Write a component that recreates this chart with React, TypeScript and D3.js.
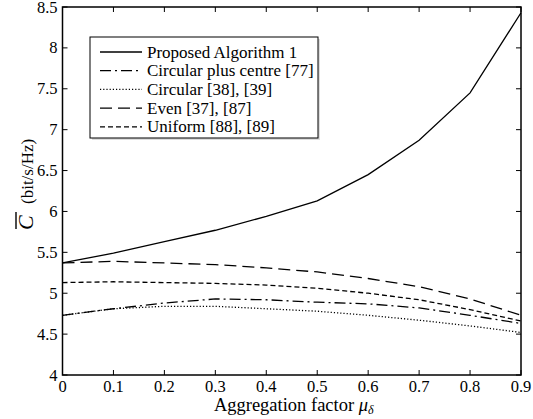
import React from "react";
import * as d3 from "d3";

const xValues = [0, 0.1, 0.2, 0.3, 0.4, 0.5, 0.6, 0.7, 0.8, 0.9];
const proposed = [5.37, 5.49, 5.63, 5.77, 5.94, 6.13, 6.45, 6.87, 7.45, 8.43];
const circPlusCentre = [4.73, 4.81, 4.88, 4.93, 4.92, 4.89, 4.87, 4.82, 4.73, 4.63];
const circular = [4.73, 4.81, 4.84, 4.84, 4.81, 4.78, 4.73, 4.67, 4.6, 4.52];
const even = [5.37, 5.39, 5.37, 5.35, 5.31, 5.26, 5.18, 5.08, 4.93, 4.73];
const uniform = [5.13, 5.14, 5.13, 5.12, 5.1, 5.06, 5.0, 4.92, 4.8, 4.66];

const seriesNames = [
  "Proposed Algorithm 1",
  "Circular plus centre [77]",
  "Circular [38], [39]",
  "Even [37], [87]",
  "Uniform [88], [89]",
];
const seriesData = [proposed, circPlusCentre, circular, even, uniform];
const dashes = ["", "11,4,2,4", "1.2,2", "12,6", "5,3"];

const xTicks = [0, 0.1, 0.2, 0.3, 0.4, 0.5, 0.6, 0.7, 0.8, 0.9];
const yTicks = [4, 4.5, 5, 5.5, 6, 6.5, 7, 7.5, 8, 8.5];

const font = "Liberation Serif";

export default function App() {
  const W = 533, H = 419;
  const left = 62.5, right = 521, top = 7, bottom = 375;
  const x = d3.scaleLinear().domain([0, 0.9]).range([left, right]);
  const y = d3.scaleLinear().domain([4, 8.5]).range([bottom, top]);
  const line = d3.line<number>().x((_, i) => x(xValues[i])).y((d) => y(d)).curve(d3.curveLinear);
  const tl = 5;
  const legX = 90, legY = 37, legW = 228, legH = 101;
  return (
    <div>
      <svg width={W} height={H} style={{ position: "absolute", left: 0, top: 0, display: "block", background: "#fff" }}>
        <rect x={0} y={0} width={W} height={H} fill="#fff" />
        {seriesData.map((s, i) => (
          <path key={i} d={line(s) || ""} fill="none" stroke="#000" strokeWidth={1.3} strokeDasharray={dashes[i]} />
        ))}
        <rect x={left} y={top} width={right - left} height={bottom - top} fill="none" stroke="#000" strokeWidth={1.5} />
        {xTicks.map((t, i) => (
          <g key={"x" + i}>
            <line x1={x(t)} x2={x(t)} y1={bottom} y2={bottom - tl} stroke="#000" strokeWidth={1} />
            <line x1={x(t)} x2={x(t)} y1={top} y2={top + tl} stroke="#000" strokeWidth={1} />
            <text x={x(t)} y={392} fontSize={16.5} textAnchor="middle" fontFamily={font}>{String(t)}</text>
          </g>
        ))}
        {yTicks.map((t, i) => (
          <g key={"y" + i}>
            <line x1={left} x2={left + tl} y1={y(t)} y2={y(t)} stroke="#000" strokeWidth={1} />
            <line x1={right} x2={right - tl} y1={y(t)} y2={y(t)} stroke="#000" strokeWidth={1} />
            <text x={left - 5} y={y(t) + 5.5} fontSize={16.5} textAnchor="end" fontFamily={font}>{String(t)}</text>
          </g>
        ))}
        <text x={(left + right) / 2 + 2} y={411} fontSize={18.5} textAnchor="middle" fontFamily={font}>
          Aggregation factor <tspan fontStyle="italic">μ</tspan>
          <tspan fontStyle="italic" fontSize={12} dy={3}>δ</tspan>
        </text>
        <g transform="translate(33,0) rotate(-90)">
          <text x={-230} y={0} fontSize={22} fontStyle="italic" fontFamily={font}>C</text>
          <line x1={-229} x2={-212} y1={-17} y2={-17} stroke="#000" strokeWidth={1.4} />
          <text x={-204} y={0} fontSize={17} fontFamily={font}>(bit/s/Hz)</text>
        </g>
        <rect x={legX + 2} y={legY + 2} width={legW} height={legH} fill="#ddd" />
        <rect x={legX} y={legY} width={legW} height={legH} fill="#fff" stroke="#000" strokeWidth={1} />
        {seriesNames.map((n, i) => {
          const ly = 52 + i * 18.7;
          return (
            <g key={"l" + i}>
              <line x1={100} x2={142} y1={ly} y2={ly} stroke="#000" strokeWidth={1.3} strokeDasharray={dashes[i]} />
              <text x={147} y={ly + 5.5} fontSize={17} fontFamily={font}>{n}</text>
            </g>
          );
        })}
      </svg>
    </div>
  );
}
